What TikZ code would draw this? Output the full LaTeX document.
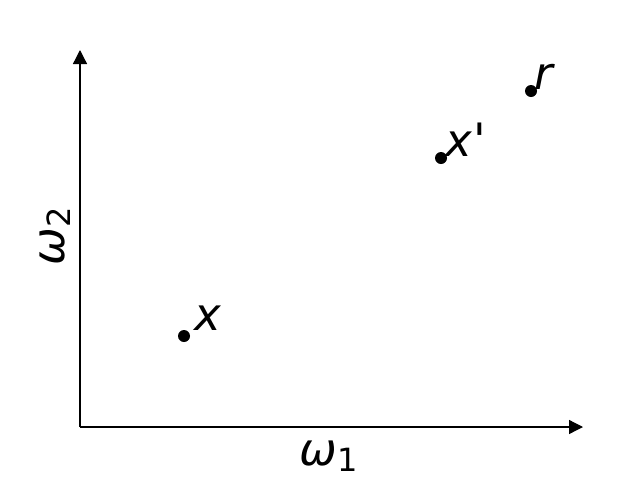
\documentclass[tikz,border=0pt]{standalone}
\usepackage{fontspec}
\setmainfont{DejaVu Sans}
\newfontfamily\obl{DejaVu Sans Oblique}
\usetikzlibrary{arrows.meta}
\begin{document}
\begin{tikzpicture}[x=1pt,y=-1pt,
  axis/.style={line width=1.3pt,-{Triangle[length=14pt,width=14pt]}},
  dotmark/.style={circle,fill=black,inner sep=0pt,minimum size=12pt},
  lbl/.style={font=\fontsize{45}{45}\selectfont,inner sep=0pt,anchor=base west}]
\useasboundingbox (0,0) rectangle (640,480);
\coordinate (o) at (80,427);
\coordinate (xe) at (583,427);
\coordinate (ye) at (80,50);
\draw[axis] (o) -- (xe);
\draw[axis] (o) -- (ye);
\node[lbl,anchor=base] (w1) at (329,465) {\obl ω\normalfont\fontsize{32}{32}\selectfont\raisebox{-6pt}{1}};
\node[lbl,anchor=base,rotate=90] (w2) at (64,236) {\obl ω\normalfont\fontsize{32}{32}\selectfont\raisebox{-6pt}{2}};
\node[dotmark] (px) at (184,336) {};
\node[dotmark] (pxp) at (441,158) {};
\node[dotmark] (pr) at (531,91) {};
\node[lbl] (lx) at (194,330) {\obl x};
\node[lbl] (lxp) at (445,156) {\obl x\hspace{2pt}{\fontsize{46}{46}\selectfont\obl '}};
\node[lbl] (lr) at (534,89) {\obl r};
\end{tikzpicture}
\end{document}
